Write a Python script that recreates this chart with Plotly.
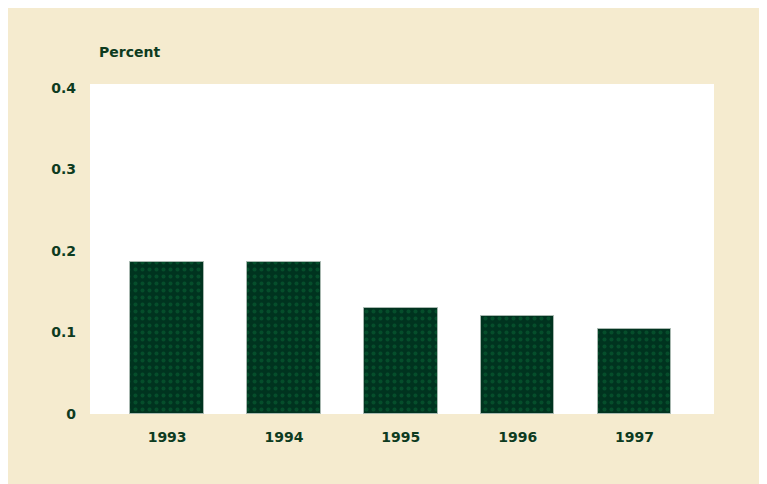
import plotly.graph_objects as go

years = ["1993", "1994", "1995", "1996", "1997"]
percent = [0.186, 0.186, 0.130, 0.120, 0.104]
y_ticks = [0, 0.1, 0.2, 0.3, 0.4]
y_tick_labels = ["0", "0.1", "0.2", "0.3", "0.4"]

W, H = 767, 484
L, T = 82, 76
PW, PH = 624, 330
R, B = W - L - PW, H - T - PH
txt = "#0d3b1f"
font = "DejaVu Sans"

fig = go.Figure()
fig.add_trace(go.Bar(
    x=list(range(len(years))), y=percent, width=0.63,
    marker=dict(color="#00331f",
                line=dict(color="#a8b8b0", width=1),
                pattern=dict(shape=".", fgcolor="#0a6a38", bgcolor="#00331f",
                             size=7, solidity=0.25)),
    hoverinfo="skip",
))

def px_x(p): return (p - L) / PW
def px_y(p): return (H - B - p) / PH

tf = dict(family=font, size=14, color=txt, weight="bold")

fig.update_layout(
    width=W, height=H,
    margin=dict(l=L, r=R, t=T, b=B, pad=0),
    paper_bgcolor="#f5ebcf", plot_bgcolor="white",
    showlegend=False, bargap=0,
    font=dict(family=font, size=14, color=txt),
    xaxis=dict(range=[-0.66, 4.68], tickvals=list(range(len(years))), ticktext=years,
               showgrid=False, zeroline=False, showline=False, ticks="",
               ticklabelstandoff=13, tickfont=tf, fixedrange=True),
    yaxis=dict(range=[0, 0.405], tickvals=y_ticks, ticktext=y_tick_labels,
               showgrid=False, zeroline=False, showline=False, ticks="",
               ticklabelstandoff=13, tickfont=tf, fixedrange=True),
    annotations=[dict(text="Percent", xref="paper", yref="paper",
                      x=px_x(89), y=px_y(44), xanchor="left", yanchor="middle",
                      showarrow=False, font=tf)],
)

fig.write_html("out.html")
